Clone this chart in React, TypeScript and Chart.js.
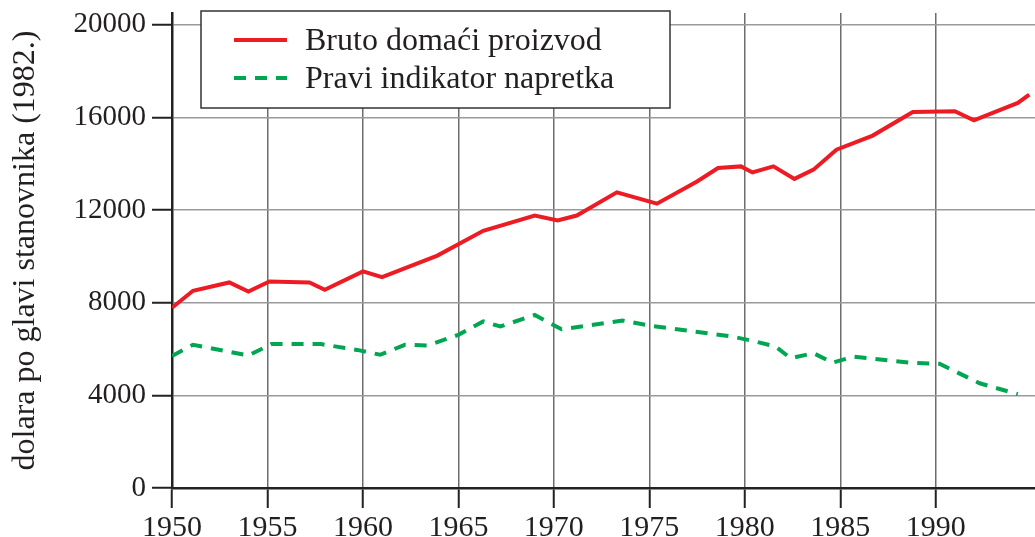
import React, { useEffect, useRef } from "react";
import { Chart, registerables } from "chart.js";

Chart.register(...registerables);

const gdpYears = [1950, 1951.1, 1953, 1954, 1955.1, 1957.2, 1958, 1960, 1961, 1963.9, 1966.3, 1969, 1970.2, 1971.2, 1973.3, 1975.4, 1977.5, 1978.6, 1979.8, 1980.4, 1981.5, 1982.6, 1983.6, 1984.8, 1986.7, 1988.8, 1991, 1992, 1994.3, 1994.9];
const gdpValues = [7780, 8510, 8870, 8480, 8910, 8870, 8550, 9350, 9100, 10030, 11100, 11760, 11550, 11760, 12760, 12270, 13230, 13810, 13880, 13620, 13880, 13340, 13740, 14600, 15210, 16230, 16260, 15870, 16620, 16980];

const gpiYears = [1950, 1951.1, 1954, 1955.2, 1957.8, 1959.7, 1960.9, 1962.2, 1963.4, 1965, 1966.3, 1967.2, 1969, 1970.4, 1973.6, 1975, 1979.3, 1980.3, 1981.6, 1982.4, 1983.6, 1984.6, 1985.7, 1988.6, 1990.2, 1992.3, 1994.3];
const gpiValues = [5700, 6180, 5720, 6210, 6210, 5960, 5750, 6180, 6150, 6610, 7190, 6970, 7470, 6850, 7230, 7010, 6540, 6370, 6110, 5600, 5820, 5410, 5670, 5410, 5360, 4520, 4050];

const xTicks = [1950, 1955, 1960, 1965, 1970, 1975, 1980, 1985, 1990];
const yTicks = [0, 4000, 8000, 12000, 16000, 20000];

const seriesLabels = ["Bruto domaći proizvod", "Pravi indikator napretka"];
const yTitle = "dolara po glavi stanovnika (1982.)";

const RED = "#ed1c24";
const GREEN = "#00a651";
const TEXT = "#231f20";
const FONT = "'Liberation Serif', 'DejaVu Serif', serif";
const DASH = [12, 9];

const legendPlugin = {
  id: "boxLegend",
  afterDraw(chart: any) {
    const ctx = chart.ctx;
    ctx.save();
    const x0 = 201, y0 = 11, x1 = 670, y1 = 108;
    ctx.fillStyle = "#ffffff";
    ctx.fillRect(x0, y0, x1 - x0, y1 - y0);
    ctx.strokeStyle = "#333333";
    ctx.lineWidth = 1.5;
    ctx.strokeRect(x0, y0, x1 - x0, y1 - y0);

    ctx.lineWidth = 4;
    ctx.strokeStyle = RED;
    ctx.setLineDash([]);
    ctx.beginPath();
    ctx.moveTo(234, 40);
    ctx.lineTo(287, 40);
    ctx.stroke();

    ctx.strokeStyle = GREEN;
    ctx.setLineDash(DASH);
    ctx.beginPath();
    ctx.moveTo(234, 78);
    ctx.lineTo(287, 78);
    ctx.stroke();
    ctx.setLineDash([]);

    ctx.fillStyle = TEXT;
    ctx.font = `32px ${FONT}`;
    ctx.textBaseline = "alphabetic";
    ctx.textAlign = "left";
    ctx.fillText(seriesLabels[0], 305, 50);
    ctx.fillText(seriesLabels[1], 305, 88);
    ctx.restore();
  },
};

export default function App() {
  const ref = useRef<HTMLCanvasElement>(null);

  useEffect(() => {
    if (!ref.current) return;
    const chart = new Chart(ref.current, {
      type: "line",
      data: {
        datasets: [
          {
            label: seriesLabels[0],
            data: gdpYears.map((x, i) => ({ x, y: gdpValues[i] })),
            borderColor: RED,
            borderWidth: 4,
            pointRadius: 0,
            tension: 0,
            fill: false,
          },
          {
            label: seriesLabels[1],
            data: gpiYears.map((x, i) => ({ x, y: gpiValues[i] })),
            borderColor: GREEN,
            borderWidth: 4,
            borderDash: DASH,
            pointRadius: 0,
            tension: 0,
            fill: false,
          },
        ],
      },
      options: {
        animation: false,
        responsive: false,
        devicePixelRatio: 1,
        layout: { padding: { top: 13, right: 0, left: 0, bottom: 0 } },
        plugins: {
          legend: { display: false },
          tooltip: { enabled: false },
        },
        scales: {
          x: {
            type: "linear",
            min: 1950,
            max: 1995.2,
            afterBuildTicks: (s: any) => {
              s.ticks = xTicks.map((v) => ({ value: v }));
            },
            afterFit: (s: any) => {
              s.height = 49;
              s.paddingLeft = 0;
              s.paddingRight = 0;
            },
            grid: {
              color: "#6d6d6d",
              lineWidth: 1.5,
              tickColor: "#222222",
              tickWidth: 2,
              tickLength: 20,
              drawTicks: true,
            },
            border: { display: true, color: "#222222", width: 2.5 },
            ticks: {
              autoSkip: false,
              maxRotation: 0,
              padding: 2,
              color: TEXT,
              font: { family: FONT, size: 30 },
              callback: (v: any) => String(v),
            },
          },
          y: {
            type: "linear",
            min: 0,
            max: 20500,
            afterBuildTicks: (s: any) => {
              s.ticks = yTicks.map((v) => ({ value: v }));
            },
            afterFit: (s: any) => {
              s.width = 172;
              s.paddingTop = 0;
              s.paddingBottom = 0;
            },
            grid: {
              color: "#9a9a9a",
              lineWidth: 1.5,
              tickColor: "#222222",
              tickWidth: 2,
              tickLength: 20,
              drawTicks: true,
            },
            border: { display: true, color: "#222222", width: 2.5 },
            ticks: {
              padding: 6,
              color: TEXT,
              font: { family: FONT, size: 29 },
              callback: (v: any) => String(v),
            },
            title: {
              display: true,
              text: yTitle,
              color: TEXT,
              font: { family: FONT, size: 32 },
              padding: { top: 6, bottom: 0 },
            },
          },
        },
      },
      plugins: [legendPlugin],
    } as any);
    return () => chart.destroy();
  }, []);

  return (
    <div style={{ position: "absolute", left: 0, top: 0, width: 1035, height: 537, background: "#fff" }}>
      <canvas ref={ref} width={1035} height={537} style={{ display: "block" }} />
    </div>
  );
}
